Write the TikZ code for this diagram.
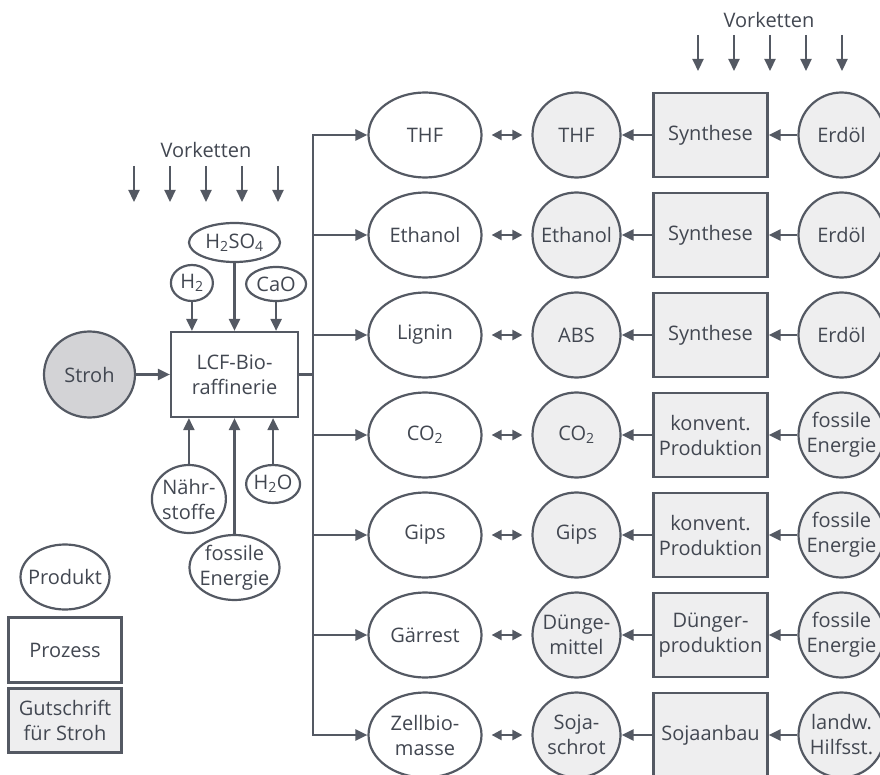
\documentclass[tikz,border=0pt]{standalone}
\usepackage{fontspec}
\setmainfont{Open Sans}
\usetikzlibrary{arrows.meta, positioning, shapes.geometric, calc}
\definecolor{linegray}{RGB}{84, 89, 99}
\definecolor{textgray}{RGB}{66, 71, 81}
\definecolor{creditgray}{RGB}{238, 238, 239}
\definecolor{strohgray}{RGB}{211, 211, 214}

\begin{document}
\begin{tikzpicture}[
    font=\fontsize{20}{25}\selectfont,
    text=textgray,
    product/.style={ellipse, draw=linegray, line width=2.2pt, fill=white, minimum width=113pt, minimum height=85pt, inner xsep=-8pt, inner ysep=-1pt, align=center},
    credit/.style={ellipse, draw=linegray, line width=2.2pt, fill=creditgray, minimum width=88pt, minimum height=85pt, inner xsep=-8pt, inner ysep=-1pt, align=center},
    proc/.style={rectangle, draw=linegray, line width=2.2pt, fill=white, minimum width=114pt, minimum height=84pt, inner sep=0pt, align=center},
    creditproc/.style={proc, fill=creditgray},
    input/.style={ellipse, draw=linegray, line width=2.2pt, fill=white, inner xsep=-8pt, inner ysep=-1pt, align=center},
    line/.style={draw=linegray, line width=2.2pt, -{Triangle[length=12pt, width=11pt]}},
    dline/.style={draw=linegray, line width=2.2pt, {Triangle[length=10pt, width=10pt]}-{Triangle[length=10pt, width=10pt]}, shorten <=9pt, shorten >=9pt},
    bus/.style={draw=linegray, line width=2.2pt, line cap=rect}
]
    \useasboundingbox (0,0) rectangle (880pt,-775pt);

    % Bioraffinerie und Inputs
    \node [proc, minimum width=127pt, minimum height=85pt] (lcf) at (234.5pt,-374.5pt) {LCF-Bio-\\raffinerie};
    \node [input, fill=strohgray, minimum width=91pt, minimum height=86pt, left=33.8pt of lcf] (stroh) {Stroh};
    \node [input, minimum width=91pt, minimum height=39pt, above=67.8pt of lcf] (hso) {H\textsubscript{2}SO\textsubscript{4}};
    \node [input, minimum width=42pt, minimum height=36pt, above=28.8pt of lcf.north west, xshift=22pt] (hzwei) {H\textsubscript{2}};
    \node [input, minimum width=60pt, minimum height=34pt, above=28.8pt of lcf.north east, xshift=-23pt] (cao) {CaO};
    \node [input, minimum width=74pt, minimum height=68pt, below=45.8pt of lcf.south west, xshift=19pt] (naehr) {Nähr-\\stoffe};
    \node [input, minimum width=54pt, minimum height=38pt, below=45.8pt of lcf.south east, xshift=-26pt] (hwo) {H\textsubscript{2}O};
    \node [input, minimum width=90pt, minimum height=65pt, below=115.8pt of lcf] (fossil) {fossile\\Energie};
    \node (vkleft) at (206pt,-150pt) {Vorketten};
    \node (vkright) at (769pt,-20pt) {Vorketten};

    % Produkte
    \node [product] (thf) at (425pt,-135pt) {THF};
    \node [product, below=12.8pt of thf] (eth) {Ethanol};
    \node [product, below=12.8pt of eth] (lig) {Lignin};
    \node [product, below=12.8pt of lig] (cotwo) {CO\textsubscript{2}};
    \node [product, below=12.8pt of cotwo] (gips) {Gips};
    \node [product, below=12.8pt of gips] (gaer) {Gärrest};
    \node [product, below=12.8pt of gaer] (zell) {Zellbio-\\masse};

    % Gutschriften
    \node [credit, right=48.8pt of thf] (thfG) {THF};
    \node [credit, right=48.8pt of eth] (ethG) {Ethanol};
    \node [credit, right=48.8pt of lig] (absG) {ABS};
    \node [credit, right=48.8pt of cotwo] (cotwoG) {CO\textsubscript{2}};
    \node [credit, right=48.8pt of gips] (gipsG) {Gips};
    \node [credit, right=48.8pt of gaer] (duengG) {Dünge-\\mittel};
    \node [credit, right=48.8pt of zell] (sojaG) {Soja-\\schrot};

    \node [creditproc, right=30.8pt of thfG] (synA) {Synthese};
    \node [creditproc, right=30.8pt of ethG] (synB) {Synthese};
    \node [creditproc, right=30.8pt of absG] (synC) {Synthese};
    \node [creditproc, right=30.8pt of cotwoG] (konvA) {konvent.\\Produktion};
    \node [creditproc, right=30.8pt of gipsG] (konvB) {konvent.\\Produktion};
    \node [creditproc, right=30.8pt of duengG] (duengP) {Dünger-\\produktion};
    \node [creditproc, right=30.8pt of sojaG] (sojaP) {Sojaanbau};

    \node [credit, minimum width=86pt, right=28.8pt of synA] (oelA) {Erdöl};
    \node [credit, minimum width=86pt, right=28.8pt of synB] (oelB) {Erdöl};
    \node [credit, minimum width=86pt, right=28.8pt of synC] (oelC) {Erdöl};
    \node [credit, minimum width=86pt, right=28.8pt of konvA] (fosA) {fossile\\Energie};
    \node [credit, minimum width=86pt, right=28.8pt of konvB] (fosB) {fossile\\Energie};
    \node [credit, minimum width=86pt, right=28.8pt of duengP] (fosC) {fossile\\Energie};
    \node [credit, minimum width=86pt, right=28.8pt of sojaP] (hilf) {landw.\\Hilfsst.};

    % Legende
    \node [product, minimum width=89pt, minimum height=65pt] (legprod) at (65pt,-577pt) {Produkt};
    \node [proc, minimum width=113pt, minimum height=65pt, below=5.8pt of legprod] (legproc) {Prozess};
    \node [creditproc, minimum width=113pt, minimum height=64pt, below=3.8pt of legproc] (legcredit) {Gutschrift\\für Stroh};

    \coordinate [right=13.9pt of lcf.east] (busnode);

    \path [line] (stroh) -- (lcf);
    \path [line] (hso) -- (lcf);
    \path [line] (hzwei) -- (hzwei |- lcf.north);
    \path [line] (cao) -- (cao |- lcf.north);
    \path [line] (naehr) -- (naehr |- lcf.south);
    \path [line] (fossil) -- (lcf);
    \path [line] (hwo) -- (hwo |- lcf.south);

    \path [line] ([xshift=-72pt, yshift=-16pt]vkleft.center) -- ++(0,-36pt);
    \path [line] ([xshift=-36pt, yshift=-16pt]vkleft.center) -- ++(0,-36pt);
    \path [line] ([yshift=-16pt]vkleft.center) -- ++(0,-36pt);
    \path [line] ([xshift=36pt, yshift=-16pt]vkleft.center) -- ++(0,-36pt);
    \path [line] ([xshift=72pt, yshift=-16pt]vkleft.center) -- ++(0,-36pt);
    \path [line] ([xshift=-71pt, yshift=-15pt]vkright.center) -- ++(0,-36pt);
    \path [line] ([xshift=-35pt, yshift=-15pt]vkright.center) -- ++(0,-36pt);
    \path [line] ([xshift=1pt, yshift=-15pt]vkright.center) -- ++(0,-36pt);
    \path [line] ([xshift=37pt, yshift=-15pt]vkright.center) -- ++(0,-36pt);
    \path [line] ([xshift=73pt, yshift=-15pt]vkright.center) -- ++(0,-36pt);

    \path [bus] (lcf.east) -- (busnode);
    \path [bus] (busnode |- thf.west) -- (busnode |- zell.west);
    \path [line] (busnode |- thf.west) -- (thf.west);
    \path [line] (busnode |- eth.west) -- (eth.west);
    \path [line] (busnode |- lig.west) -- (lig.west);
    \path [line] (busnode |- cotwo.west) -- (cotwo.west);
    \path [line] (busnode |- gips.west) -- (gips.west);
    \path [line] (busnode |- gaer.west) -- (gaer.west);
    \path [line] (busnode |- zell.west) -- (zell.west);

    \path [dline] (thf) -- (thfG);
    \path [dline] (eth) -- (ethG);
    \path [dline] (lig) -- (absG);
    \path [dline] (cotwo) -- (cotwoG);
    \path [dline] (gips) -- (gipsG);
    \path [dline] (gaer) -- (duengG);
    \path [dline] (zell) -- (sojaG);

    \path [line] (synA) -- (thfG);
    \path [line] (synB) -- (ethG);
    \path [line] (synC) -- (absG);
    \path [line] (konvA) -- (cotwoG);
    \path [line] (konvB) -- (gipsG);
    \path [line] (duengP) -- (duengG);
    \path [line] (sojaP) -- (sojaG);
    \path [line] (oelA) -- (synA);
    \path [line] (oelB) -- (synB);
    \path [line] (oelC) -- (synC);
    \path [line] (fosA) -- (konvA);
    \path [line] (fosB) -- (konvB);
    \path [line] (fosC) -- (duengP);
    \path [line] (hilf) -- (sojaP);

\end{tikzpicture}
\end{document}
